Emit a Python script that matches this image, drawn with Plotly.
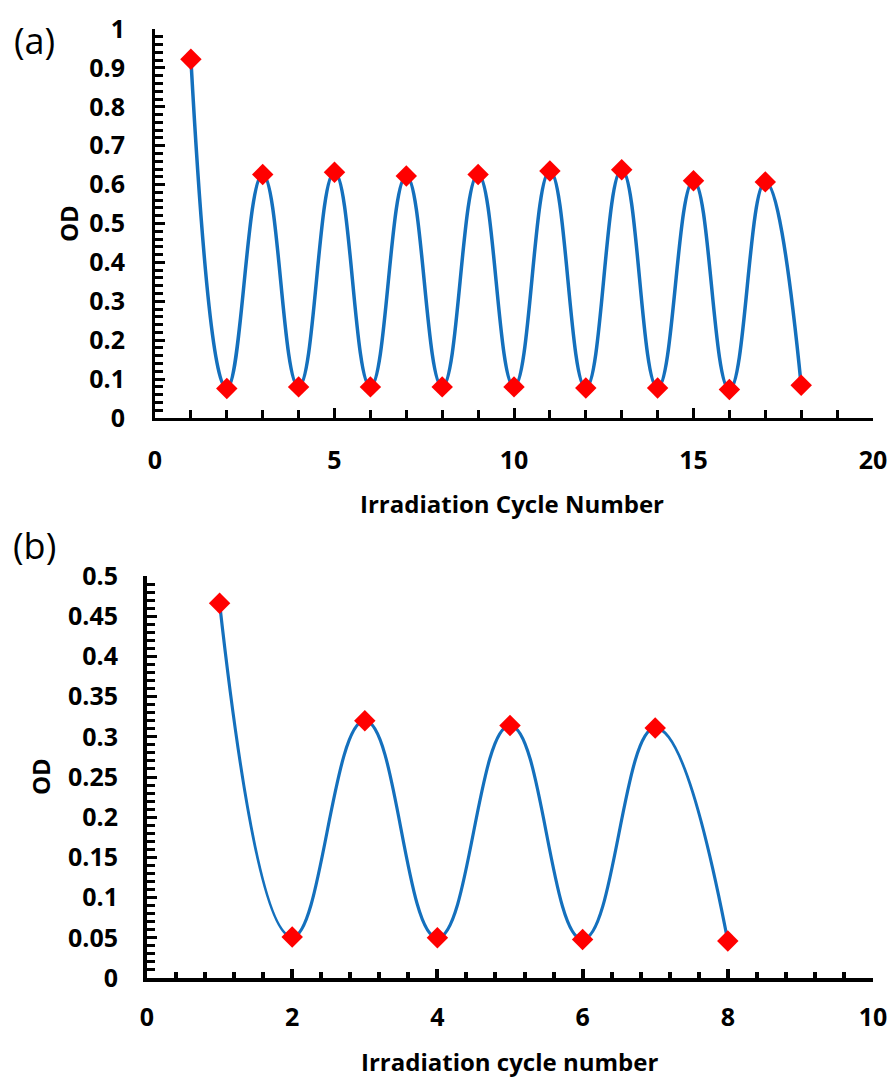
import plotly.graph_objects as go

# Panel (a)
cycles_a = list(range(1, 19))
od_a = [0.922, 0.076, 0.626, 0.080, 0.632, 0.080, 0.622, 0.080, 0.626,
        0.080, 0.635, 0.077, 0.638, 0.077, 0.610, 0.073, 0.607, 0.084]

# Panel (b)
cycles_b = list(range(1, 9))
od_b = [0.466, 0.051, 0.320, 0.050, 0.314, 0.048, 0.311, 0.046]

LINE = "#1470bd"
RED = "#ff0000"
FONT = "Open Sans"
W, H = 891, 1077

fig = go.Figure()

fig.add_trace(go.Scatter(
    x=cycles_a, y=od_a, mode="lines+markers", xaxis="x", yaxis="y",
    line=dict(color=LINE, width=3.5, shape="spline", smoothing=1.3),
    marker=dict(symbol="diamond", size=16.5, color=RED),
    cliponaxis=False, showlegend=False))

fig.add_trace(go.Scatter(
    x=cycles_b, y=od_b, mode="lines+markers", xaxis="x2", yaxis="y2",
    line=dict(color=LINE, width=3.2, shape="spline", smoothing=1.3),
    marker=dict(symbol="diamond", size=16.5, color=RED),
    cliponaxis=False, showlegend=False))

tickfont = dict(family=FONT, size=25, color="black", weight="bold")

def px_x(p):
    return p / W

def px_y(p):
    return 1 - p / H

common = dict(showline=True, linecolor="black", showgrid=False, zeroline=False,
              ticks="inside", tickcolor="black", tickfont=tickfont, mirror=False,
              automargin=False)

fig.update_layout(
    width=W, height=H, margin=dict(l=0, r=0, t=0, b=0),
    paper_bgcolor="white", plot_bgcolor="white",
    xaxis=dict(domain=[px_x(155), px_x(873)], range=[0, 20], anchor="y",
               dtick=5, ticklen=10, tickwidth=3, linewidth=3,
               minor=dict(ticks="inside", dtick=1, ticklen=8, tickwidth=3, tickcolor="black", showgrid=False),
               ticklabelstandoff=18, **common),
    yaxis=dict(domain=[px_y(418), px_y(29)], range=[0, 1], anchor="x",
               ticklen=10, tickwidth=3, linewidth=3,
               tickvals=[0, 0.1, 0.2, 0.3, 0.4, 0.5, 0.6, 0.7, 0.8, 0.9, 1.0],
               ticktext=["0", "0.1", "0.2", "0.3", "0.4", "0.5", "0.6", "0.7", "0.8", "0.9", "1"],
               minor=dict(ticks="inside", dtick=0.02, ticklen=8, tickwidth=3, tickcolor="black", showgrid=False),
               ticklabelstandoff=22, **common),
    xaxis2=dict(domain=[px_x(147), px_x(873)], range=[0, 10], anchor="y2",
                dtick=2, ticklen=9, tickwidth=4, linewidth=4,
                minor=dict(ticks="inside", dtick=0.4, ticklen=6, tickwidth=4, tickcolor="black", showgrid=False),
                ticklabelstandoff=14, **common),
    yaxis2=dict(domain=[px_y(978), px_y(576)], range=[0, 0.5], anchor="x2",
                tickvals=[0, 0.05, 0.1, 0.15, 0.2, 0.25, 0.3, 0.35, 0.4, 0.45, 0.5],
                ticktext=["0", "0.05", "0.1", "0.15", "0.2", "0.25", "0.3", "0.35", "0.4", "0.45", "0.5"],
                ticklen=10, tickwidth=3, linewidth=4,
                minor=dict(ticks="inside", dtick=0.01, ticklen=8, tickwidth=3, tickcolor="black", showgrid=False),
                ticklabelstandoff=20, **common),
)

titlefont = dict(family=FONT, size=24, color="black", weight="bold")
fig.add_annotation(text="Irradiation Cycle Number", xref="paper", yref="paper",
                   x=px_x(512), y=px_y(503), showarrow=False, font=titlefont,
                   xanchor="center", yanchor="middle")
fig.add_annotation(text="OD", xref="paper", yref="paper", textangle=-90,
                   x=px_x(68), y=px_y(224), showarrow=False, font=titlefont,
                   xanchor="center", yanchor="middle")
fig.add_annotation(text="Irradiation cycle number", xref="paper", yref="paper",
                   x=px_x(510), y=px_y(1061), showarrow=False, font=titlefont,
                   xanchor="center", yanchor="middle")
fig.add_annotation(text="OD", xref="paper", yref="paper", textangle=-90,
                   x=px_x(40), y=px_y(777), showarrow=False, font=titlefont,
                   xanchor="center", yanchor="middle")

labelfont = dict(family=FONT, size=36, color="black")
fig.add_annotation(text="(a)", xref="paper", yref="paper", x=px_x(34), y=px_y(40),
                   showarrow=False, font=labelfont, xanchor="center", yanchor="middle")
fig.add_annotation(text="(b)", xref="paper", yref="paper", x=px_x(34), y=px_y(545),
                   showarrow=False, font=labelfont, xanchor="center", yanchor="middle")

fig.write_html("out.html")
